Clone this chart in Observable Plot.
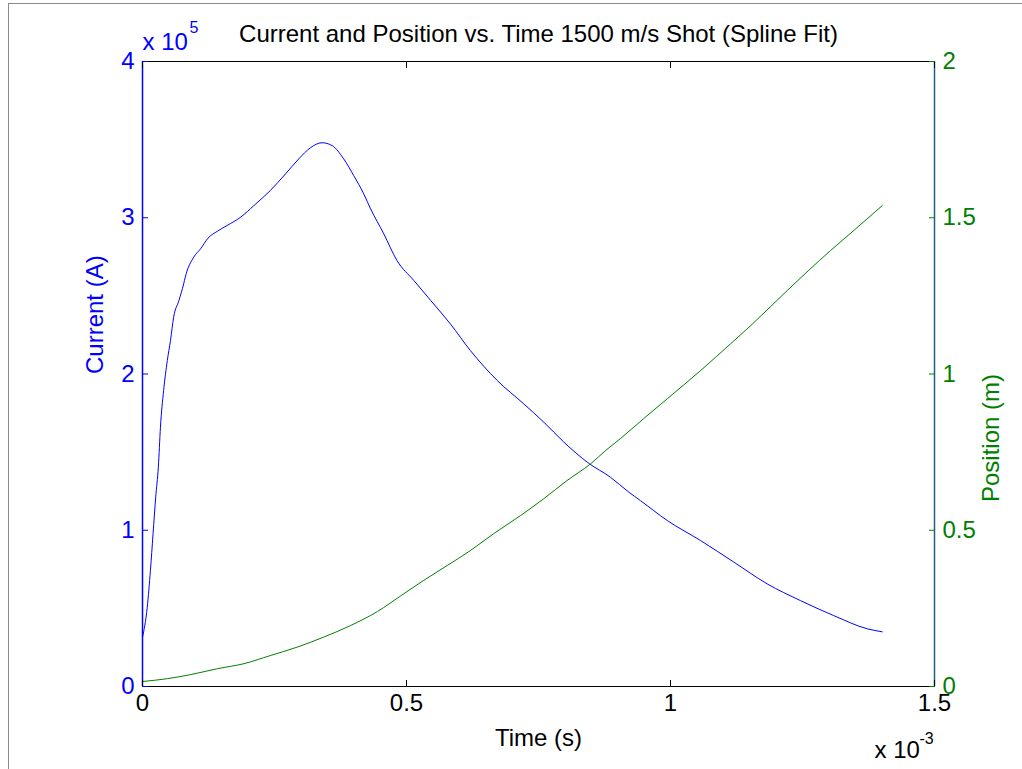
<!DOCTYPE html>
<html><head><meta charset="utf-8">
<script src="https://cdn.jsdelivr.net/npm/d3@7"></script>
<script src="https://cdn.jsdelivr.net/npm/@observablehq/plot@0.6"></script>
<style>
body{margin:0;background:#fff;}
#wrap{position:relative;width:1022px;height:769px;overflow:hidden;background:#fff}
#border{position:absolute;left:8px;top:3px;width:1030px;height:800px;border:1.5px solid #8a8a8a;pointer-events:none;box-sizing:border-box}
svg{display:block}
</style></head><body><div id="wrap"></div>
<script>
// Time axis values are in units of 1e-3 s (shown with "x 10^-3")
const currentTimeMs = [0, 0.009, 0.015, 0.020, 0.025, 0.030, 0.034, 0.040, 0.047, 0.053, 0.059, 0.069, 0.078, 0.081, 0.097, 0.110, 0.124, 0.142, 0.160, 0.186, 0.211, 0.242, 0.271, 0.296, 0.318, 0.340, 0.359, 0.381, 0.400, 0.419, 0.432, 0.457, 0.482, 0.514, 0.546, 0.583, 0.621, 0.672, 0.722, 0.760, 0.798, 0.845, 0.886, 0.921, 0.943, 0.994, 1.057, 1.120, 1.183, 1.246, 1.309, 1.373, 1.401];
const currentA = [31400, 50800, 74200, 97700, 121200, 140400, 166000, 189400, 208600, 221400, 236400, 247000, 257700, 262000, 274800, 280100, 286900, 291400, 295000, 300400, 307800, 317400, 328100, 337700, 344800, 348000, 346200, 337700, 327000, 315300, 305700, 289700, 272600, 259800, 247000, 232100, 215000, 195800, 180900, 169200, 156400, 142900, 134000, 124400, 119000, 106200, 93400, 79600, 65700, 55000, 45400, 36900, 35000];
const positionTimeMs = [0, 0.047, 0.091, 0.142, 0.192, 0.242, 0.293, 0.343, 0.394, 0.445, 0.489, 0.533, 0.577, 0.621, 0.665, 0.716, 0.760, 0.804, 0.849, 0.877, 0.905, 0.949, 0.994, 1.057, 1.114, 1.152, 1.221, 1.303, 1.347, 1.401];
const positionM = [0.016, 0.025, 0.038, 0.057, 0.073, 0.099, 0.126, 0.158, 0.195, 0.240, 0.290, 0.340, 0.387, 0.435, 0.489, 0.547, 0.601, 0.659, 0.713, 0.755, 0.793, 0.857, 0.921, 1.011, 1.097, 1.155, 1.267, 1.395, 1.459, 1.539];
const xTicks = [0, 0.5, 1, 1.5];
const currentTicks = [0, 1e5, 2e5, 3e5, 4e5];
const positionTicks = [0, 0.5, 1, 1.5, 2];
const titleText = "Current and Position vs. Time 1500 m/s Shot (Spline Fit)";
const xLabel = "Time (s)";
const yLabelLeft = "Current (A)";
const yLabelRight = "Position (m)";

const currentMax = 4e5, positionMax = 2;
const k = currentMax / positionMax; // maps position onto current scale

const current = currentTimeMs.map((t, i) => ({t, v: currentA[i]}));
const position = positionTimeMs.map((t, i) => ({t, v: positionM[i] * k}));

const BLUE = "#0000ff", GREEN = "#008000", RIGHT = "#1f5f80";
const FONT = "'Liberation Sans', Arial, Helvetica, sans-serif";
const FS = 24, TFS = 24, SUP = 16;
const M = "middle";

const chart = Plot.plot({
  width: 1022, height: 769,
  marginLeft: 142, marginRight: 88, marginTop: 61, marginBottom: 83,
  style: {fontFamily: FONT, fontSize: FS + "px", background: "transparent", overflow: "visible"},
  x: {domain: [0, 1.5]},
  y: {domain: [0, currentMax]},
  marks: [
    Plot.line(current, {x: "t", y: "v", stroke: BLUE, strokeWidth: 1, curve: "monotone-x"}),
    Plot.line(position, {x: "t", y: "v", stroke: GREEN, strokeWidth: 1, curve: "monotone-x"}),
    Plot.ruleY([currentMax], {stroke: "black", strokeWidth: 1.2}),
    Plot.ruleY([0], {stroke: "black", strokeWidth: 1.2}),
    Plot.ruleX([0], {stroke: BLUE, strokeWidth: 1.5}),
    Plot.ruleX([1.5], {stroke: RIGHT, strokeWidth: 1.5}),
    Plot.axisX({anchor: "bottom", ticks: xTicks, tickSize: -6, tickPadding: 13, color: "black", label: null, tickFormat: d => String(d), fontSize: TFS}),
    Plot.axisX({anchor: "top", ticks: xTicks, tickSize: -6, color: "black", label: null, tickFormat: () => ""}),
    Plot.axisY({anchor: "left", ticks: currentTicks, tickSize: -6, tickPadding: 14, color: BLUE, label: null, tickFormat: d => String(d / 1e5), fontSize: TFS}),
    Plot.axisY({anchor: "right", ticks: positionTicks.map(p => p * k), tickSize: -6, tickPadding: 14, color: GREEN, label: null, tickFormat: d => String(d / k), fontSize: TFS}),
    Plot.text([titleText], {frameAnchor: "top", lineAnchor: M, dy: -27, fontSize: FS, fill: "black"}),
    Plot.text([xLabel], {frameAnchor: "bottom", lineAnchor: M, dy: 52, fontSize: FS, fill: "black"}),
    Plot.text(["x 10"], {frameAnchor: "top-left", lineAnchor: M, textAnchor: "start", dy: -19, dx: 0, fontSize: FS, fill: BLUE}),
    Plot.text(["5"], {frameAnchor: "top-left", lineAnchor: M, textAnchor: "start", dy: -34, dx: 47, fontSize: SUP, fill: BLUE}),
    Plot.text(["x 10"], {frameAnchor: "bottom-right", lineAnchor: M, textAnchor: "start", dy: 64, dx: -60, fontSize: FS, fill: "black"}),
    Plot.text(["-3"], {frameAnchor: "bottom-right", lineAnchor: M, textAnchor: "start", dy: 52, dx: -15, fontSize: SUP, fill: "black"}),
    Plot.text([yLabelLeft], {frameAnchor: "left", lineAnchor: M, dx: -47, rotate: -90, fontSize: FS, fill: BLUE}),
    Plot.text([yLabelRight], {frameAnchor: "right", lineAnchor: M, dx: 57, rotate: -90, fontSize: FS, fill: GREEN})
  ]
});
const wrap = document.getElementById("wrap");
wrap.appendChild(chart);
const b = document.createElement("div"); b.id = "border"; wrap.appendChild(b);
</script></body></html>
